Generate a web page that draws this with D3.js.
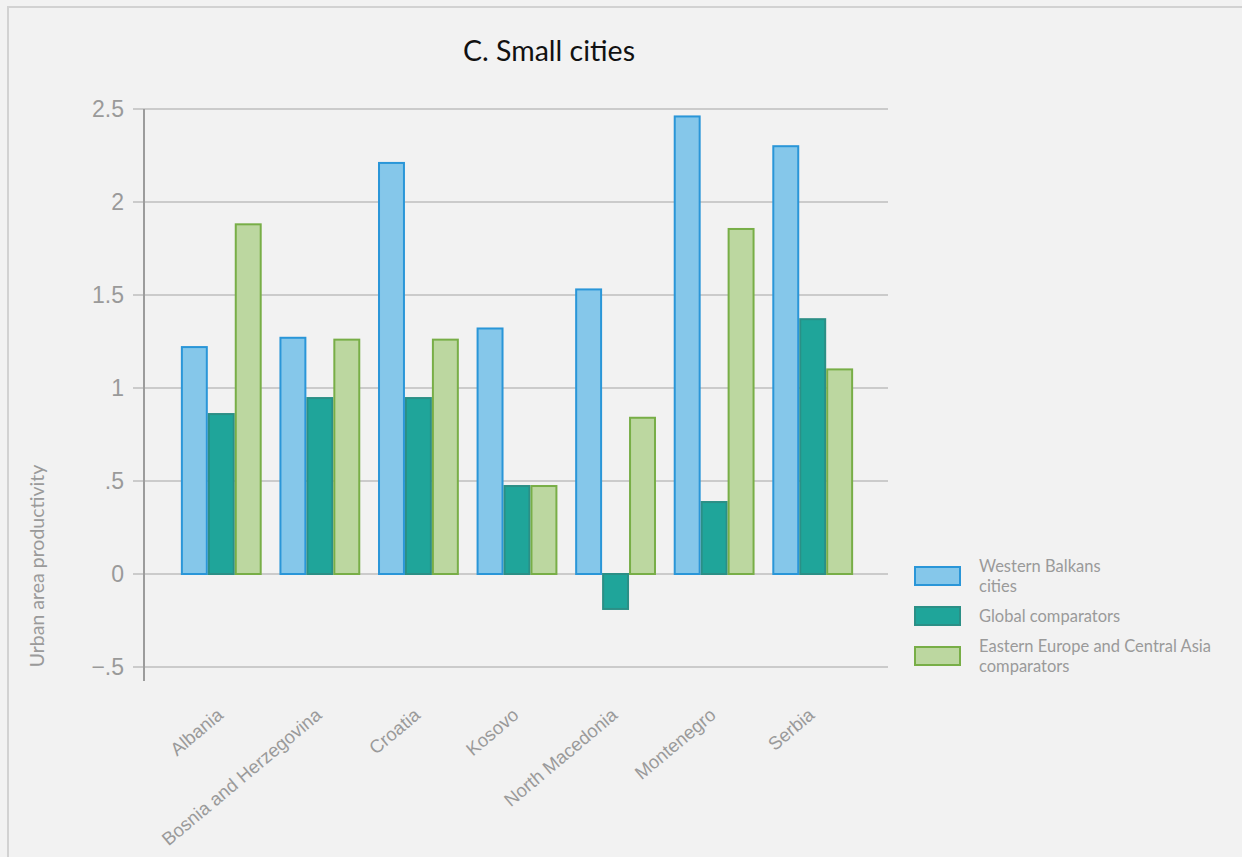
<!DOCTYPE html>
<html><head><meta charset="utf-8">
<script src="https://cdn.jsdelivr.net/npm/d3@7/dist/d3.min.js"></script>
<style>body{margin:0;background:#fff}svg{display:block}</style>
</head><body>
<svg id="c" width="1242" height="857"></svg>
<script>
const categories = ["Albania","Bosnia and Herzegovina","Croatia","Kosovo","North Macedonia","Montenegro","Serbia"];
const seriesNames = ["Western Balkans cities","Global comparators","Eastern Europe and Central Asia comparators"];
const westernBalkans = [1.22,1.27,2.21,1.32,1.53,2.46,2.30];
const globalComp = [0.86,0.946,0.946,0.473,-0.188,0.387,1.37];
const eecaComp = [1.88,1.26,1.26,0.473,0.84,1.855,1.10];
const yTicks = [-0.5,0,0.5,1,1.5,2,2.5];
const yTickLabels = ["\u2212.5","0",".5","1","1.5","2","2.5"];
const legendLines = [["Western Balkans","cities"],["Global comparators"],["Eastern Europe and Central Asia","comparators"]];

const fills = ["#85c7ea","#1fa59a","#bcd7a0"];
const strokes = ["#2a96d8","#2b8f86","#78ae47"];
const series = [westernBalkans, globalComp, eecaComp];

const svg = d3.select("#c");
svg.append("rect").attr("width",1242).attr("height",857).attr("fill","#f2f2f2");
svg.append("rect").attr("x",8).attr("y",7).attr("width",1250).attr("height",870)
  .attr("fill","none").attr("stroke","#d2d2d2").attr("stroke-width",2);

const y = d3.scaleLinear().domain([-0.5,2.5]).range([667,109]);
const x0 = d3.scaleBand().domain(categories).range([172,862]).paddingInner(0.18).paddingOuter(0.09);
const x1 = d3.scaleBand().domain(d3.range(3)).range([0,x0.bandwidth()]);

// gridlines
svg.append("g").selectAll("line").data(yTicks).join("line")
  .attr("x1",133).attr("x2",888).attr("y1",d=>y(d)).attr("y2",d=>y(d))
  .attr("stroke","#cbcbcb").attr("stroke-width",2);

// y axis
const yAxis = d3.axisLeft(y).tickValues(yTicks).tickFormat((d,i)=>yTickLabels[i]).tickSize(0).tickPadding(20);
const ga = svg.append("g").attr("transform","translate(144,0)").call(yAxis);
ga.select(".domain").remove();
ga.selectAll("text").attr("fill","#9a9a9a").attr("font-family","Liberation Sans, Arial, sans-serif").attr("font-size",23);
svg.append("line").attr("x1",144).attr("x2",144).attr("y1",y(2.5)).attr("y2",681)
  .attr("stroke","#9c9c9c").attr("stroke-width",2);

// bars
const g = svg.append("g");
categories.forEach((c,ci)=>{
  series.forEach((s,si)=>{
    const v = s[ci];
    g.append("rect")
      .attr("x", x0(c)+x1(si)+1)
      .attr("width", x1.bandwidth()-2)
      .attr("y", Math.min(y(v),y(0)))
      .attr("height", Math.abs(y(v)-y(0)))
      .attr("fill",fills[si]).attr("stroke",strokes[si]).attr("stroke-width",2);
  });
});

// x labels
svg.append("g").selectAll("text").data(categories).join("text")
  .attr("transform",d=>`translate(${x0(d)+x0.bandwidth()/2+3},${717}) rotate(-40)`)
  .attr("text-anchor","end")
  .attr("fill","#9a9a9a").attr("font-family","Liberation Sans, Arial, sans-serif").attr("font-size",18.5)
  .text(d=>d);

// y label
svg.append("text").attr("transform","translate(44,566) rotate(-90)")
  .attr("text-anchor","middle").attr("fill","#9a9a9a")
  .attr("font-family","Lato, Open Sans, sans-serif").attr("font-size",19.5)
  .text("Urban area productivity");

// title
svg.append("text").attr("x",549).attr("y",61).attr("text-anchor","middle")
  .attr("font-family","Lato, Open Sans, sans-serif").attr("font-size",28.5).attr("fill","#111")
  .text("C. Small cities");

// legend
const lg = svg.append("g");
legendLines.forEach((lines,i)=>{
  const yy = 566 + i*40;
  lg.append("rect").attr("x",915).attr("y",yy+1).attr("width",45).attr("height",18)
    .attr("fill",fills[i]).attr("stroke",strokes[i]).attr("stroke-width",2);
  const t = lg.append("text").attr("x",979).attr("y",yy+(lines.length>1?6:16))
    .attr("fill","#9a9a9a").attr("font-family","Lato, Open Sans, sans-serif").attr("font-size",16.5);
  lines.forEach((l,j)=>t.append("tspan").attr("x",979).attr("dy",j?19.5:0).text(l));
});
</script>
</body></html>
